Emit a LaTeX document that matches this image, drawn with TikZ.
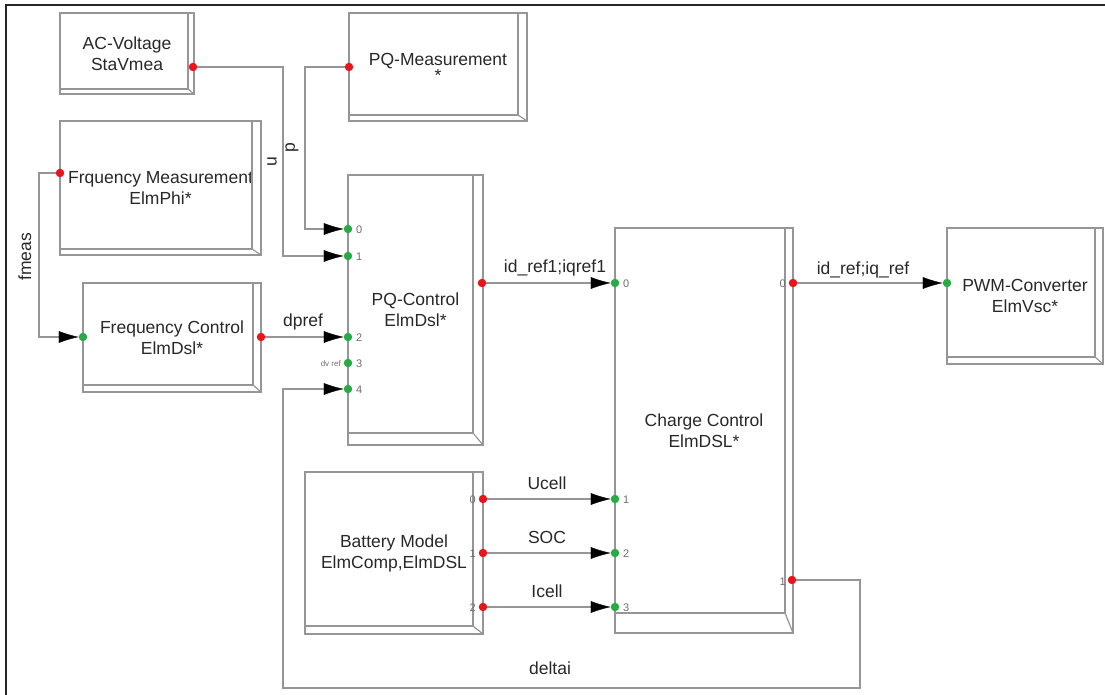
\documentclass[tikz,border=0pt]{standalone}
\usepackage{fontspec}
\setmainfont{Liberation Sans}
\usetikzlibrary{arrows.meta,calc}
\pgfdeclarelayer{bg}
\pgfsetlayers{bg,main}
\definecolor{lc}{RGB}{150,150,150}
\definecolor{tc}{RGB}{40,40,40}
\definecolor{pc}{RGB}{110,110,110}
\definecolor{rd}{RGB}{232,22,28}
\definecolor{gn}{RGB}{40,170,70}
\tikzset{
  blk/.style={draw=lc, line width=1.2pt, anchor=north west, inner sep=0pt, outer sep=0pt,
    align=center, text=tc, font=\fontsize{17.5}{21}\selectfont},
  bev/.style={draw=lc, line width=1.2pt},
  rdot/.style={circle, fill=rd, minimum size=8.5pt, inner sep=0pt, outer sep=0pt},
  gdot/.style={circle, fill=gn, minimum size=8.5pt, inner sep=0pt, outer sep=0pt},
  wire/.style={draw=lc, line width=1.2pt},
  sig/.style={wire, -{Latex[length=20pt,width=12pt,color=black,line width=0.4pt]}},
  lbl/.style={text=tc, inner sep=0pt, font=\fontsize{17.5}{21}\selectfont},
  pn/.style={text=pc, inner sep=0pt, font=\fontsize{11}{12}\selectfont},
}
\newcommand{\bevel}[3]{%
  \draw[bev] ($(#1.north east)+(-#2,0)$) -- ($(#1.south east)+(-#2,-#3)$) -- ($(#1.south west)+(0,-#3)$);
  \draw[bev] ($(#1.south east)+(-#2,-#3)$) -- (#1.south east);}
\begin{document}
\begin{tikzpicture}[x=1pt,y=-1pt]
\useasboundingbox (0,0) rectangle (1105,695);
\draw[line width=2pt, black!85] (1105,5) -- (6,5) -- (6,695);

% boxes
\node[blk, minimum width=134pt, minimum height=81pt] (acv) at (60,13) {AC-Voltage\\StaVmea};
\node[blk, minimum width=178pt, minimum height=108pt] (pqm) at (349,13) {PQ-Measurement\\[-5pt]*};
\node[blk, minimum width=201pt, minimum height=134pt] (fm) at (60,121) {Frquency Measurement\\ElmPhi*};
\node[blk, minimum width=178pt, minimum height=109pt] (fc) at (83,283) {Frequency Control\\ElmDsl*};
\node[blk, minimum width=135pt, minimum height=270pt] (pq) at (348,175) {PQ-Control\\ElmDsl*};
\node[blk, minimum width=178pt, minimum height=405pt] (cc) at (615,228) {Charge Control\\ElmDSL*};
\node[blk, minimum width=156pt, minimum height=136pt] (pwm) at (947,228) {PWM-Converter\\ElmVsc*};
\node[blk, minimum width=178pt, minimum height=162pt] (bat) at (305,472) {Battery Model\\ElmComp,ElmDSL};

\bevel{acv}{6}{5}
\bevel{pqm}{9}{6}
\bevel{fm}{9}{6}
\bevel{fc}{8}{7}
\bevel{pq}{10}{12}
\bevel{cc}{8}{20}
\bevel{pwm}{8}{7}
\bevel{bat}{10}{8}

% ports
\node[rdot] (acvo) at (193,67) {};
\node[rdot] (pqmo) at (349,67) {};
\node[rdot] (fmo) at (60,173) {};
\node[gdot] (fci) at (83,337) {};
\node[rdot] (fco) at (261,337) {};
\node[gdot] (pq0) at (348,229) {};
\node[gdot] (pq1) at (348,256) {};
\node[gdot] (pq2) at (348,337) {};
\node[gdot] (pq3) at (348,363) {};
\node[gdot] (pq4) at (348,389) {};
\node[rdot] (pqo) at (482,283) {};
\node[gdot] (cc0) at (615,283) {};
\node[gdot] (cc1) at (615,499) {};
\node[gdot] (cc2) at (615,553) {};
\node[gdot] (cc3) at (615,607) {};
\node[rdot] (cco0) at (793,283) {};
\node[rdot] (cco1) at (792,580) {};
\node[gdot] (pwmi) at (947,283) {};
\node[rdot] (b0) at (483,499) {};
\node[rdot] (b1) at (483,553) {};
\node[rdot] (b2) at (483,607) {};

% port numbers
\foreach \n/\yy in {0/229,1/256,2/337,3/363,4/389}{\node[pn, anchor=west] (pqn\n) at (356,\yy+1) {\n};}
\node[pn, anchor=east, font=\fontsize{8}{9}\selectfont] (dvr) at (341,364) {dv ref};
\node[pn, anchor=west] (ccn0) at (623,284) {0};
\node[pn, anchor=west] (ccn1) at (623,500) {1};
\node[pn, anchor=west] (ccn2) at (623,554) {2};
\node[pn, anchor=west] (ccn3) at (623,608) {3};
\node[pn, anchor=east] (cco0n) at (786,284) {0};
\node[pn, anchor=east] (cco1n) at (786,582) {1};
\node[pn, anchor=east] (bn0) at (476,500) {0};
\node[pn, anchor=east] (bn1) at (476,554) {1};
\node[pn, anchor=east] (bn2) at (476,608) {2};

% connectors
\begin{pgfonlayer}{bg}
\draw[sig] (acvo) -| (283,256) -- (pq1);
\draw[sig] (pqmo) -| (305,229) -- (pq0);
\draw[sig] (fmo) -| (39,337) -- (fci);
\draw[sig] (fco) -- (pq2);
\draw[sig] (pqo) -- (cc0);
\draw[sig] (cco0) -- (pwmi);
\draw[sig] (b0) -- (cc1);
\draw[sig] (b1) -- (cc2);
\draw[sig] (b2) -- (cc3);
\draw[sig] (cco1) -| (860,688) -| (283,389) -- (pq4);
\end{pgfonlayer}

% connector labels
\node[lbl, rotate=90] (lu) at (272,162) {u};
\node[lbl, rotate=90] (lp) at (292,148) {p};
\node[lbl, rotate=90] (lf) at (25,257) {fmeas};
\node[lbl] (ldp) at (303,322) {dpref};
\node[lbl] (lid1) at (555,268) {id\_ref1;iqref1};
\node[lbl] (lid) at (863,270) {id\_ref;iq\_ref};
\node[lbl] (luc) at (547,483) {Ucell};
\node[lbl] (lsoc) at (547,537) {SOC};
\node[lbl] (lic) at (547,591) {Icell};
\node[lbl] (ldel) at (550,668) {deltai};
\end{tikzpicture}
\end{document}
